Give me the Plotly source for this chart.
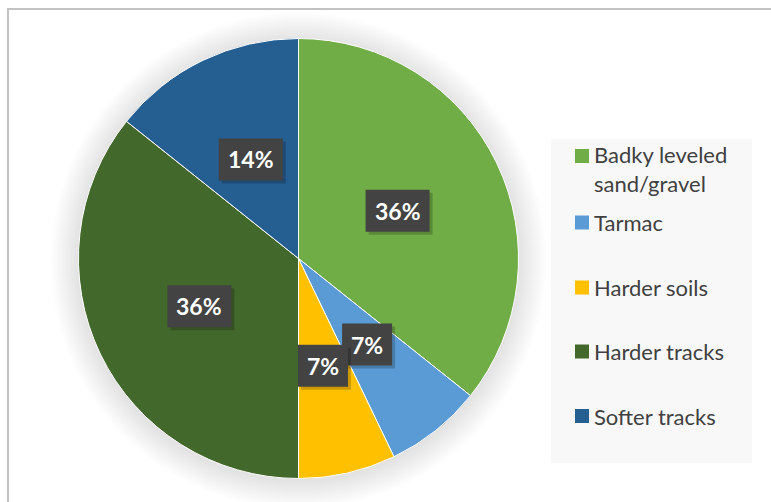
import math
import plotly.graph_objects as go

# Surface types and their counts
categories = ["Badky leveled<br>sand/gravel", "Tarmac", "Harder soils", "Harder tracks", "Softer tracks"]
counts = [5, 1, 1, 5, 2]
colors = ["#70ad47", "#5b9bd5", "#ffc000", "#43682b", "#255e91"]

W, H = 771, 502
CX, CY, R = 298.5, 258.5, 220.0  # pie centre/radius in pixels


def px(x):
    return x / W


def py(y):
    return 1 - y / H


fig = go.Figure(
    go.Pie(
        labels=categories,
        values=counts,
        marker=dict(colors=colors, line=dict(color="white", width=1)),
        sort=False,
        direction="clockwise",
        rotation=0,
        textinfo="none",
        hoverinfo="skip",
        showlegend=False,
        domain=dict(x=[px(CX - R), px(CX + R)], y=[py(CY + R), py(CY - R)]),
    )
)

shapes = []
annotations = []

# chart frame
shapes.append(dict(type="rect", xref="paper", yref="paper",
                   x0=px(8), x1=px(W + 20), y0=py(H + 20), y1=py(9),
                   line=dict(color="#c3c3c3", width=2), fillcolor="rgba(0,0,0,0)",
                   layer="below"))

# soft glow around the pie
for k in range(14):
    r = R + 2 + 2 * k
    shapes.append(dict(type="circle", xref="paper", yref="paper",
                       x0=px(CX - r), x1=px(CX + r), y0=py(CY + 2 + r), y1=py(CY + 2 - r),
                       line=dict(width=0), fillcolor="rgba(0,0,0,0.007)", layer="below"))

# legend panel
shapes.append(dict(type="rect", xref="paper", yref="paper",
                   x0=px(551), x1=px(752), y0=py(463), y1=py(139),
                   line=dict(width=0), fillcolor="#f8f8f8", layer="below"))

# percentage labels at the middle of each slice, on dark callout boxes
total = sum(counts)
cum = 0
for v in counts:
    mid = (cum + v / 2) / total * 2 * math.pi
    cum += v
    lx = CX + 0.5 * R * math.sin(mid)
    ly = CY - 0.5 * R * math.cos(mid)
    txt = f"{round(100 * v / total)}%"
    bw, bh = 22 + 14 * len(txt), 42
    # drop shadow
    shapes.append(dict(type="rect", xref="paper", yref="paper",
                       x0=px(lx - bw / 2 + 3), x1=px(lx + bw / 2 + 3),
                       y0=py(ly + bh / 2 + 3), y1=py(ly - bh / 2 + 3),
                       line=dict(width=0), fillcolor="rgba(0,0,0,0.2)"))
    shapes.append(dict(type="rect", xref="paper", yref="paper",
                       x0=px(lx - bw / 2), x1=px(lx + bw / 2),
                       y0=py(ly + bh / 2), y1=py(ly - bh / 2),
                       line=dict(width=0), fillcolor="#434343"))
    annotations.append(dict(xref="paper", yref="paper", x=px(lx), y=py(ly),
                            xanchor="center", yanchor="middle",
                            text=f"<b>{txt}</b>", showarrow=False,
                            font=dict(family="Lato", size=23, color="white")))

# legend entries
rows = [156, 222.5, 287.5, 351.5, 416]
for name, col, y in zip(categories, colors, rows):
    shapes.append(dict(type="rect", xref="paper", yref="paper",
                       x0=px(575), x1=px(589), y0=py(y + 7), y1=py(y - 7),
                       line=dict(width=0), fillcolor=col))
    lines = name.count("<br>") + 1
    annotations.append(dict(xref="paper", yref="paper", x=px(592),
                            y=py(y + (lines - 1) * 13.5),
                            xanchor="left", yanchor="middle", align="left",
                            text=name, showarrow=False,
                            font=dict(family="Lato", size=22, color="#404040")))

fig.update_layout(
    width=W, height=H,
    margin=dict(l=0, r=0, t=0, b=0),
    paper_bgcolor="white",
    shapes=shapes,
    annotations=annotations,
)

fig.write_html("out.html", config={"displayModeBar": False})
